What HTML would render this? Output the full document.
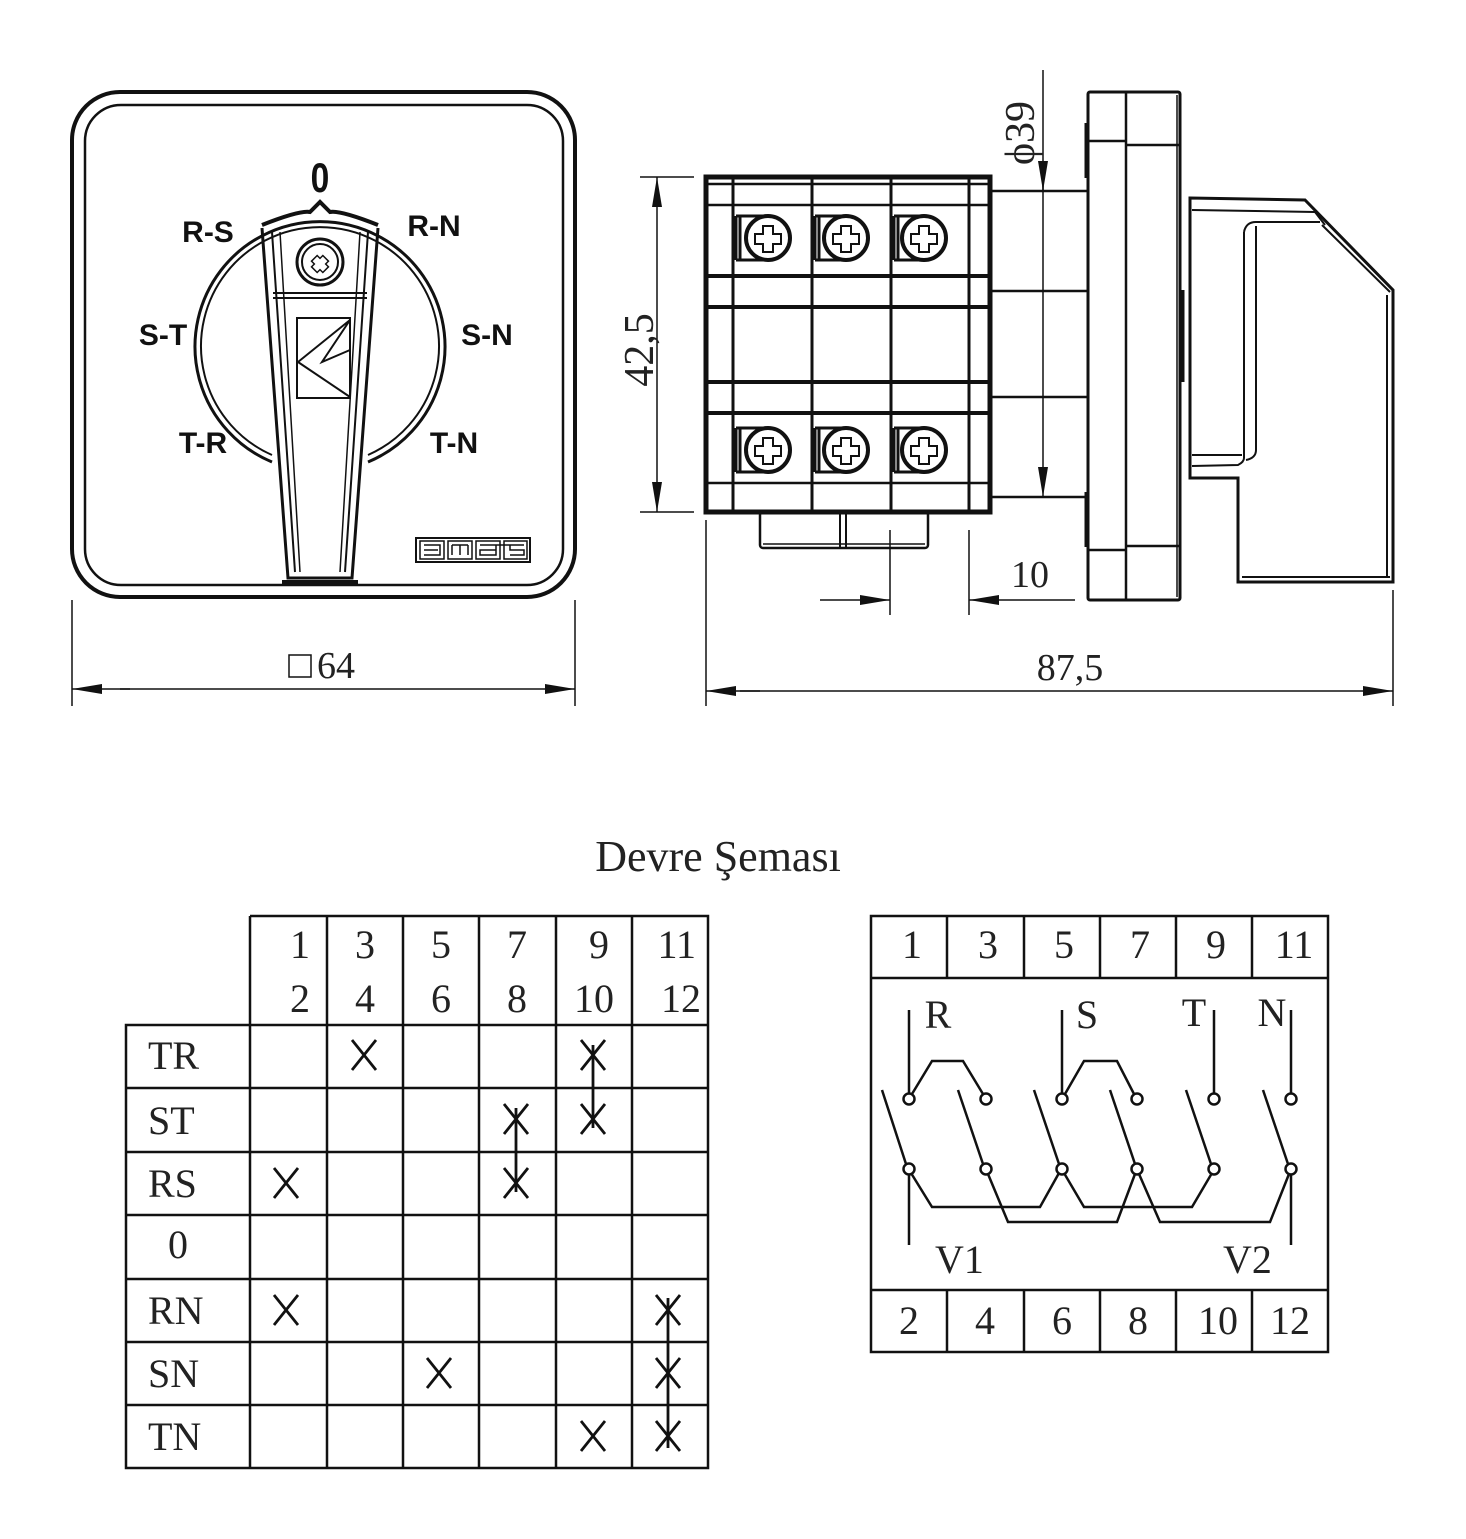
<!DOCTYPE html>
<html><head><meta charset="utf-8"><style>
html,body{margin:0;padding:0;background:#fff}
svg{display:block}
.s{font-family:"Liberation Serif",serif;fill:#222}
.b{font-family:"Liberation Sans",sans-serif;font-weight:bold;fill:#111}
</style></head><body>
<svg width="1466" height="1539" viewBox="0 0 1466 1539" xmlns="http://www.w3.org/2000/svg">
<defs>
<marker id="ar" viewBox="0 0 30 10" refX="30" refY="5" markerWidth="30" markerHeight="10" markerUnits="userSpaceOnUse" orient="auto"><path d="M0,0 L30,5 L0,10 z" fill="#111"/></marker>
</defs>
<g fill="none" stroke="#111" stroke-width="2.5">
<rect x="72" y="92" width="503" height="505" rx="48" stroke-width="4"/>
<rect x="85" y="105" width="478" height="480" rx="36" stroke-width="2.5"/>
<path d="M272,462 A125,125 0 1 1 368,462" stroke-width="3"/>
<path d="M272,455 A119,119 0 1 1 368,455" stroke-width="2"/>
<path d="M262,225 Q300,210 310,212 L320,202 L330,212 Q340,210 378,225" stroke-width="4"/>
<path d="M262,228 L288,578 L352,578 L378,228" stroke-width="3"/>
<path d="M272,232 L295,572 M368,232 L345,572" stroke-width="2"/>
<path d="M280,232 L300,572 M360,232 L340,572" stroke-width="1.5"/>
<path d="M282,582 L358,582" stroke-width="4"/>
<line x1="273" y1="293" x2="367" y2="293" stroke-width="2"/>
<line x1="273" y1="298" x2="367" y2="298" stroke-width="2"/>
<circle cx="320" cy="262" r="23" stroke-width="3"/>
<circle cx="320" cy="262" r="18" stroke-width="2"/>
<path d="M316,256 h8 v4 h4 v8 h-4 v4 h-8 v-4 h-4 v-8 h4z" stroke-width="1.5" transform="rotate(45 320 264)"/>
<rect x="297" y="318" width="53" height="80" stroke-width="2"/>
<path d="M350,320 L298,362 L350,397 M350,320 L322,362 L350,350" stroke-width="2"/>
<rect x="416" y="538" width="114" height="24" stroke-width="2"/>
<rect x="420" y="541" width="24" height="18" stroke-width="1.5"/><rect x="448" y="541" width="24" height="18" stroke-width="1.5"/><rect x="476" y="541" width="24" height="18" stroke-width="1.5"/><rect x="504" y="541" width="23" height="18" stroke-width="1.5"/>
<path d="M424,545h16v10h-16 M424,550h14 M452,545v10 M460,545v10 M468,545v10 M452,545h16 M480,545h16v10h-16v-5h16 M508,545h-16 M508,545h16 M524,545h-14v5h14v5h-14" stroke-width="1.5"/>
<line x1="72" y1="600" x2="72" y2="706" stroke-width="1.5"/>
<line x1="575" y1="600" x2="575" y2="706" stroke-width="1.5"/>
<line x1="130" y1="689" x2="72" y2="689" stroke-width="1.5" marker-end="url(#ar)"/>
<line x1="120" y1="689" x2="575" y2="689" stroke-width="1.5" marker-end="url(#ar)"/>
<rect x="289" y="655" width="22" height="22" stroke-width="1.5"/>

<rect x="706" y="177" width="284" height="335" stroke-width="5"/>
<g stroke-width="2.5">
<line x1="708" y1="184" x2="988" y2="184"/><line x1="708" y1="205" x2="988" y2="205"/>
<line x1="708" y1="483" x2="988" y2="483"/>
</g>
<g stroke-width="4">
<line x1="708" y1="276" x2="988" y2="276"/><line x1="708" y1="307" x2="988" y2="307"/>
<line x1="708" y1="382" x2="988" y2="382"/><line x1="708" y1="413" x2="988" y2="413"/>
</g>
<g stroke-width="3">
<line x1="733" y1="179" x2="733" y2="510"/><line x1="812" y1="179" x2="812" y2="510"/>
<line x1="891" y1="179" x2="891" y2="510"/><line x1="969" y1="179" x2="969" y2="510"/>
</g>
<g stroke-width="3">
<path d="M736,216 h30 M736,260 h30 M736,216 v44 M740,216 v44"/>
<path d="M815,216 h30 M815,260 h30 M815,216 v44 M819,216 v44"/>
<path d="M894,216 h30 M894,260 h30 M894,216 v44 M898,216 v44"/>
<path d="M736,428 h30 M736,472 h30 M736,428 v44 M740,428 v44"/>
<path d="M815,428 h30 M815,472 h30 M815,428 v44 M819,428 v44"/>
<path d="M894,428 h30 M894,472 h30 M894,428 v44 M898,428 v44"/>
</g>
<g stroke-width="4">
<circle cx="768" cy="238" r="22"/><circle cx="846" cy="238" r="22"/><circle cx="924" cy="238" r="22"/>
<circle cx="768" cy="450" r="22"/><circle cx="846" cy="450" r="22"/><circle cx="924" cy="450" r="22"/>
</g>
<g stroke-width="2">
<path d="M763,226h10v8h8v10h-8v8h-10v-8h-8v-10h8z"/>
<path d="M841,226h10v8h8v10h-8v8h-10v-8h-8v-10h8z"/>
<path d="M919,226h10v8h8v10h-8v8h-10v-8h-8v-10h8z"/>
<path d="M763,438h10v8h8v10h-8v8h-10v-8h-8v-10h8z"/>
<path d="M841,438h10v8h8v10h-8v8h-10v-8h-8v-10h8z"/>
<path d="M919,438h10v8h8v10h-8v8h-10v-8h-8v-10h8z"/>
</g>
<rect x="760" y="512" width="168" height="36" rx="3" stroke-width="2.5"/>
<line x1="763" y1="544" x2="925" y2="544" stroke-width="1.5"/>
<line x1="840" y1="512" x2="840" y2="548" stroke-width="2"/><line x1="846" y1="512" x2="846" y2="548" stroke-width="2"/>
<g stroke-width="2.5">
<line x1="990" y1="191" x2="1088" y2="191"/><line x1="990" y1="291" x2="1088" y2="291"/>
<line x1="990" y1="397" x2="1088" y2="397"/><line x1="990" y1="497" x2="1088" y2="497"/>
</g>
<rect x="1088" y="92" width="92" height="508" rx="2" stroke-width="3"/>
<line x1="1126" y1="92" x2="1126" y2="600" stroke-width="2.5"/>
<line x1="1088" y1="141" x2="1126" y2="141" stroke-width="2.5"/><line x1="1126" y1="145" x2="1180" y2="145" stroke-width="2.5"/>
<line x1="1088" y1="550" x2="1126" y2="550" stroke-width="2.5"/><line x1="1126" y1="546" x2="1180" y2="546" stroke-width="2.5"/>
<line x1="1177" y1="95" x2="1177" y2="597" stroke-width="1.5"/>
<path d="M1087,123 v55 M1087,492 v55 M1182,290 v92" stroke-width="5"/>
<path d="M1190,198 L1305,200 L1393,290 L1393,582 L1238,582 L1238,478 L1190,478 Z" stroke-width="3"/>
<path d="M1192,210 L1315,212 L1325,225 M1322,225 L1390,292 M1387,295 V577 M1242,577 H1390" stroke-width="2"/>
<path d="M1244,232 Q1246,222 1256,222 L1320,222 M1244,232 V458 Q1244,462 1238,465 L1192,466 M1256,226 V450 Q1256,458 1246,460 M1192,455 L1242,455" stroke-width="2"/>
<line x1="640" y1="177" x2="694" y2="177" stroke-width="1.5"/>
<line x1="640" y1="512" x2="694" y2="512" stroke-width="1.5"/>
<line x1="657" y1="300" x2="657" y2="177" stroke-width="1.5" marker-end="url(#ar)"/>
<line x1="657" y1="300" x2="657" y2="512" stroke-width="1.5" marker-end="url(#ar)"/>
<line x1="1043" y1="70" x2="1043" y2="191" stroke-width="1.5" marker-end="url(#ar)"/>
<line x1="1043" y1="180" x2="1043" y2="497" stroke-width="1.5" marker-end="url(#ar)"/>
<line x1="890" y1="530" x2="890" y2="615" stroke-width="1.5"/>
<line x1="969" y1="530" x2="969" y2="615" stroke-width="1.5"/>
<line x1="820" y1="600" x2="890" y2="600" stroke-width="1.5" marker-end="url(#ar)"/>
<line x1="1075" y1="600" x2="969" y2="600" stroke-width="1.5" marker-end="url(#ar)"/>
<line x1="706" y1="520" x2="706" y2="706" stroke-width="1.5"/>
<line x1="1393" y1="590" x2="1393" y2="706" stroke-width="1.5"/>
<line x1="760" y1="691" x2="706" y2="691" stroke-width="1.5" marker-end="url(#ar)"/>
<line x1="740" y1="691" x2="1393" y2="691" stroke-width="1.5" marker-end="url(#ar)"/>

<g stroke-width="2.5">
<path d="M250,916 H708 V1468 H126 V1025 H708"/>
<line x1="250" y1="916" x2="250" y2="1468"/>
<line x1="327" y1="916" x2="327" y2="1468"/><line x1="403" y1="916" x2="403" y2="1468"/>
<line x1="479" y1="916" x2="479" y2="1468"/><line x1="556" y1="916" x2="556" y2="1468"/>
<line x1="632" y1="916" x2="632" y2="1468"/>
<line x1="126" y1="1088" x2="708" y2="1088"/><line x1="126" y1="1152" x2="708" y2="1152"/>
<line x1="126" y1="1215" x2="708" y2="1215"/><line x1="126" y1="1279" x2="708" y2="1279"/>
<line x1="126" y1="1342" x2="708" y2="1342"/><line x1="126" y1="1405" x2="708" y2="1405"/>
</g>
<g stroke-width="2.8">
<path d="M352,1040 l24,30 M376,1040 l-24,30"/>
<path d="M581,1040 l24,30 M605,1040 l-24,30"/>
<path d="M504,1104 l24,30 M528,1104 l-24,30"/>
<path d="M581,1104 l24,30 M605,1104 l-24,30"/>
<path d="M274,1168 l24,30 M298,1168 l-24,30"/>
<path d="M504,1168 l24,30 M528,1168 l-24,30"/>
<path d="M274,1295 l24,30 M298,1295 l-24,30"/>
<path d="M656,1295 l24,30 M680,1295 l-24,30"/>
<path d="M427,1358 l24,30 M451,1358 l-24,30"/>
<path d="M656,1358 l24,30 M680,1358 l-24,30"/>
<path d="M581,1421 l24,30 M605,1421 l-24,30"/>
<path d="M656,1421 l24,30 M680,1421 l-24,30"/>
<line x1="593" y1="1045" x2="593" y2="1128"/>
<line x1="516" y1="1108" x2="516" y2="1192"/>
<line x1="668" y1="1298" x2="668" y2="1448"/>
</g>

<g stroke-width="2.5">
<rect x="871" y="916" width="457" height="436"/>
<line x1="871" y1="978" x2="1328" y2="978"/><line x1="871" y1="1290" x2="1328" y2="1290"/>
<line x1="947" y1="916" x2="947" y2="978"/><line x1="1024" y1="916" x2="1024" y2="978"/>
<line x1="1100" y1="916" x2="1100" y2="978"/><line x1="1176" y1="916" x2="1176" y2="978"/>
<line x1="1252" y1="916" x2="1252" y2="978"/>
<line x1="947" y1="1290" x2="947" y2="1352"/><line x1="1024" y1="1290" x2="1024" y2="1352"/>
<line x1="1100" y1="1290" x2="1100" y2="1352"/><line x1="1176" y1="1290" x2="1176" y2="1352"/>
<line x1="1252" y1="1290" x2="1252" y2="1352"/>
</g>
<g stroke-width="2.5">
<line x1="909" y1="1010" x2="909" y2="1094"/>
<line x1="1062" y1="1010" x2="1062" y2="1094"/>
<line x1="1214" y1="1010" x2="1214" y2="1094"/>
<line x1="1291" y1="1010" x2="1291" y2="1094"/>
<path d="M912,1094 L932,1061 L963,1061 L983,1094"/>
<path d="M1065,1094 L1084,1061 L1117,1061 L1134,1094"/>
<line x1="882" y1="1090" x2="906" y2="1164"/>
<line x1="958" y1="1090" x2="983" y2="1164"/>
<line x1="1034" y1="1090" x2="1059" y2="1164"/>
<line x1="1110" y1="1090" x2="1135" y2="1164"/>
<line x1="1186" y1="1090" x2="1211" y2="1164"/>
<line x1="1263" y1="1090" x2="1288" y2="1164"/>
<line x1="909" y1="1174" x2="909" y2="1245"/>
<line x1="1291" y1="1174" x2="1291" y2="1245"/>
<path d="M911,1173 L932,1207 L1040,1207 L1059,1173"/>
<path d="M1064,1173 L1084,1207 L1192,1207 L1212,1173"/>
<path d="M988,1174 L1008,1222 L1117,1222 L1135,1174"/>
<path d="M1139,1174 L1160,1222 L1270,1222 L1289,1174"/>
</g>
<g stroke-width="2.5" fill="#fff">
<circle cx="909" cy="1099" r="5.5"/><circle cx="986" cy="1099" r="5.5"/><circle cx="1062" cy="1099" r="5.5"/>
<circle cx="1137" cy="1099" r="5.5"/><circle cx="1214" cy="1099" r="5.5"/><circle cx="1291" cy="1099" r="5.5"/>
<circle cx="909" cy="1169" r="5.5"/><circle cx="986" cy="1169" r="5.5"/><circle cx="1062" cy="1169" r="5.5"/>
<circle cx="1137" cy="1169" r="5.5"/><circle cx="1214" cy="1169" r="5.5"/><circle cx="1291" cy="1169" r="5.5"/>
</g>
</g>

<g class="b">
<text x="320" y="192" font-size="42" text-anchor="middle" transform="translate(320 0) scale(0.8 1) translate(-320 0)">0</text>
<text x="208" y="242" font-size="30" text-anchor="middle">R-S</text>
<text x="434" y="236" font-size="30" text-anchor="middle">R-N</text>
<text x="163" y="345" font-size="30" text-anchor="middle">S-T</text>
<text x="487" y="345" font-size="30" text-anchor="middle">S-N</text>
<text x="203" y="453" font-size="30" text-anchor="middle">T-R</text>
<text x="454" y="453" font-size="30" text-anchor="middle">T-N</text>
</g>
<g class="s">
<text x="317" y="678" font-size="38">64</text>
<text x="1070" y="680" font-size="38" text-anchor="middle">87,5</text>
<text x="1030" y="587" font-size="38" text-anchor="middle">10</text>
<text transform="translate(653,350) rotate(-90)" font-size="42" text-anchor="middle">42,5</text>
<text transform="translate(1034,133) rotate(-90)" font-size="42" text-anchor="middle">ϕ39</text>
<text x="718" y="871" font-size="44" text-anchor="middle">Devre Şeması</text>
<g font-size="40" text-anchor="end">
<text x="310" y="958">1</text><text x="310" y="1012">2</text>
<text x="375" y="958">3</text><text x="375" y="1012">4</text>
<text x="451" y="958">5</text><text x="451" y="1012">6</text>
<text x="527" y="958">7</text><text x="527" y="1012">8</text>
<text x="609" y="958">9</text><text x="614" y="1012">10</text>
<text x="696" y="958">11</text><text x="701" y="1012">12</text>
</g>
<g font-size="40">
<text x="148" y="1069">TR</text><text x="148" y="1134">ST</text><text x="148" y="1197">RS</text>
<text x="168" y="1258">0</text><text x="148" y="1324">RN</text><text x="148" y="1387">SN</text><text x="148" y="1450">TN</text>
</g>
<g font-size="40" text-anchor="middle">
<text x="912" y="958">1</text><text x="988" y="958">3</text><text x="1064" y="958">5</text>
<text x="1140" y="958">7</text><text x="1216" y="958">9</text><text x="1294" y="958">11</text>
<text x="909" y="1334">2</text><text x="985" y="1334">4</text><text x="1062" y="1334">6</text>
<text x="1138" y="1334">8</text><text x="1218" y="1334">10</text><text x="1290" y="1334">12</text>
<text x="938" y="1028">R</text><text x="1087" y="1028">S</text><text x="1194" y="1026">T</text><text x="1272" y="1026">N</text>
</g>
<text x="935" y="1273" font-size="40">V1</text>
<text x="1223" y="1273" font-size="40">V2</text>
</g>
</svg>
</body></html>
